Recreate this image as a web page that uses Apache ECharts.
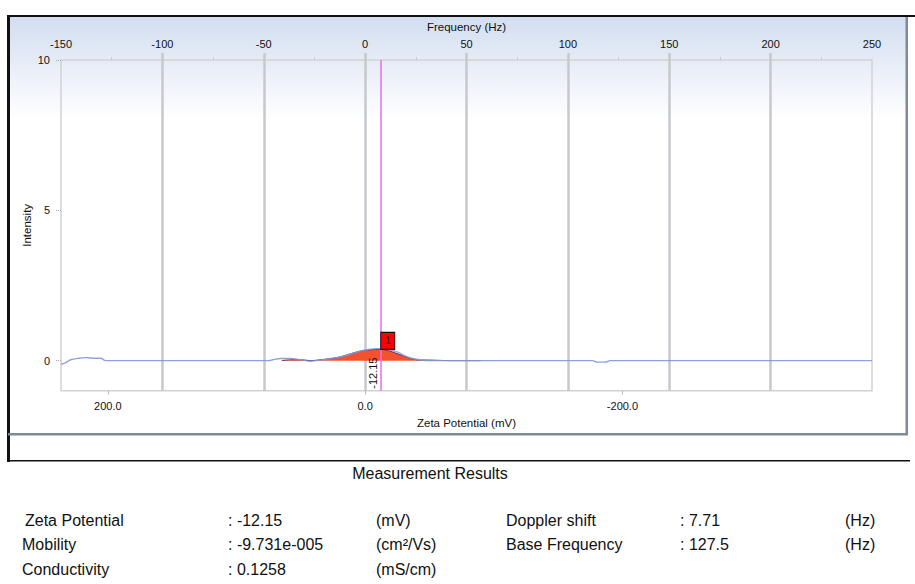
<!DOCTYPE html>
<html>
<head>
<meta charset="utf-8">
<title>Zeta Potential</title>
<script src="https://cdn.jsdelivr.net/npm/echarts@6/dist/echarts.min.js"></script>
<style>
  html, body { margin: 0; padding: 0; background: #ffffff; }
  #chart { width: 915px; height: 584px; }
</style>
</head>
<body>
<div id="chart"></div>
<script>
// Measured results
const zetaPotentialMv = -12.15;
const dopplerShiftHz = 7.71;
const mobilityText = '-9.731e-005';
const conductivityText = '0.1258';
const baseFrequencyText = '127.5';

// Frequency spectrum (blue trace): frequency in Hz and intensity
const spectrumFreq = [-150, -148.1, -145.2, -141.2, -137.8, -132.8, -130.4, -128.4, -126, -47.5, -45.5, -41.6, -36.6, -31.7, -26.8, -21.9, -16.9, -12.0, -7.1, -2.1, 1.8, 5.3, 8.7, 12.7, 16.1, 20.1, 23.5, 27.5, 32.4, 112.3, 113.3, 114.8, 118.2, 119.7, 120.7, 250];
const spectrumIntensity = [-0.12, -0.08, 0.03, 0.08, 0.10, 0.08, 0.08, 0.01, 0, 0, 0.03, 0.07, 0.07, 0.03, -0.02, 0.02, 0.07, 0.12, 0.22, 0.32, 0.37, 0.40, 0.40, 0.35, 0.28, 0.15, 0.07, 0.02, 0, 0, -0.03, -0.05, -0.05, -0.03, 0, 0];

// Zeta potential distribution (red area): potential in mV and intensity
const distZeta = [64.8, 57.7, 50.0, 42.2, 34.5, 26.6, 18.9, 11.2, 3.3, -4.4, -12.15, -18.4, -23.8, -30.1, -35.5, -41.8, -47.1, -57.2, -66.5, -89.8];
const distIntensity = [0, 0.03, 0.03, 0.0, 0.03, 0.07, 0.13, 0.23, 0.32, 0.36, 0.375, 0.33, 0.25, 0.15, 0.07, 0.02, 0.02, 0.01, 0, 0];

// Axis ranges and tick labels
const freqMin = -150, freqMax = 250, freqStep = 50;
const freqTickValues = [-100, -50, 0, 50, 100, 150, 200];
const zetaTickValues = [200, 0, -200];
const intensityMin = -1, intensityMax = 10;
const intensityTickValues = [0, 5, 10];

// Result table rows
const resultRowsLeft = [
  ['Zeta Potential', ': ' + zetaPotentialMv.toFixed(2), '(mV)'],
  ['Mobility', ': ' + mobilityText, '(cm\u00B2/Vs)'],
  ['Conductivity', ': ' + conductivityText, '(mS/cm)']
];
const resultRowsRight = [
  ['Doppler shift', ': ' + dopplerShiftHz.toFixed(2), '(Hz)'],
  ['Base Frequency', ': ' + baseFrequencyText, '(Hz)']
];

// mV per Hz, so the zeta axis lines up with the frequency axis
const mvPerHz = zetaPotentialMv / dopplerShiftHz;

const FONT = '"Liberation Sans", Arial, sans-serif';
const chart = echarts.init(document.getElementById('chart'), null, { renderer: 'svg' });

const spectrumData = spectrumFreq.map((f, i) => [f, spectrumIntensity[i]]);
const distData = distZeta.map((z, i) => [z, distIntensity[i]]);
let peakIdx = 0;
distIntensity.forEach((v, i) => { if (v > distIntensity[peakIdx]) peakIdx = i; });

const graphics = [
  // chart panel with gradient background
  { type: 'rect', z: -10, shape: { x: 8, y: 15, width: 899, height: 419 },
    style: { fill: new echarts.graphic.LinearGradient(0, 0, 0, 1, [
      { offset: 0, color: '#d2ddf0' }, { offset: 0.25, color: '#ffffff' }, { offset: 1, color: '#ffffff' }]) } },
  { type: 'rect', z: -5, shape: { x: 7, y: 15, width: 908, height: 2 }, style: { fill: '#111111' } },
  { type: 'rect', z: -5, shape: { x: 7, y: 15, width: 3, height: 447 }, style: { fill: '#111111' } },
  { type: 'rect', z: -5, shape: { x: 905.5, y: 17, width: 2.5, height: 418 }, style: { fill: '#7d8b98' } },
  { type: 'rect', z: -5, shape: { x: 8, y: 433, width: 900, height: 2.5 }, style: { fill: '#7d8b98' } },
  { type: 'rect', z: -5, shape: { x: 7, y: 460, width: 903, height: 1.5 }, style: { fill: '#111111' } },
  { type: 'text', x: 430, y: 473, style: { text: 'Measurement Results', font: '16px ' + FONT, fill: '#111', textAlign: 'center', textVerticalAlign: 'middle' } }
];
const rowY = [520, 544, 569];
resultRowsLeft.forEach((r, i) => {
  graphics.push({ type: 'text', x: i === 0 ? 25 : 22, y: rowY[i], style: { text: r[0], font: '16px ' + FONT, fill: '#111', textVerticalAlign: 'middle' } });
  graphics.push({ type: 'text', x: 228, y: rowY[i], style: { text: r[1], font: '16px ' + FONT, fill: '#111', textVerticalAlign: 'middle' } });
  graphics.push({ type: 'text', x: 376, y: rowY[i], style: { text: r[2], font: '16px ' + FONT, fill: '#111', textVerticalAlign: 'middle' } });
});
resultRowsRight.forEach((r, i) => {
  graphics.push({ type: 'text', x: 506, y: rowY[i], style: { text: r[0], font: '16px ' + FONT, fill: '#111', textVerticalAlign: 'middle' } });
  graphics.push({ type: 'text', x: 680, y: rowY[i], style: { text: r[1], font: '16px ' + FONT, fill: '#111', textVerticalAlign: 'middle' } });
  graphics.push({ type: 'text', x: 845, y: rowY[i], style: { text: r[2], font: '16px ' + FONT, fill: '#111', textVerticalAlign: 'middle' } });
});

const axisText = { fontFamily: FONT, fontSize: 11, color: '#111' };
const nameText = { fontFamily: FONT, fontSize: 11.5, color: '#111' };

chart.setOption({
  animation: false,
  backgroundColor: 'transparent',
  graphic: graphics,
  grid: { left: 61, top: 60, width: 811, height: 330.7, show: true, borderColor: '#d2d2d2', borderWidth: 1.5, backgroundColor: 'transparent' },
  xAxis: [
    {
      type: 'value', position: 'top', min: freqMin, max: freqMax, interval: freqStep,
      name: 'Frequency (Hz)', nameLocation: 'middle', nameGap: 25, nameTextStyle: nameText,
      axisLine: { show: false, onZero: false },
      axisTick: { show: true, length: 7, customValues: freqTickValues, lineStyle: { color: '#c6c8cc', width: 2.5 } },
      minorTick: { show: true, splitNumber: 2, length: 3, lineStyle: { color: '#c8c8c8', width: 1 } },
      axisLabel: Object.assign({ margin: 11 }, axisText),
      splitLine: { show: true, showMinLine: true, showMaxLine: true, lineStyle: { color: '#c6c8cc', width: 2.5 } }
    },
    {
      type: 'value', position: 'bottom', inverse: true,
      min: freqMax * mvPerHz, max: freqMin * mvPerHz,
      name: 'Zeta Potential (mV)', nameLocation: 'middle', nameGap: 25, nameTextStyle: nameText,
      axisLine: { show: false, onZero: false },
      axisTick: { show: true, length: 4, customValues: zetaTickValues, lineStyle: { color: '#bbbbbb' } },
      axisLabel: Object.assign({ margin: 10, customValues: zetaTickValues, formatter: v => v.toFixed(1) }, axisText),
      splitLine: { show: false }
    }
  ],
  yAxis: {
    type: 'value', min: intensityMin, max: intensityMax,
    name: 'Intensity', nameLocation: 'middle', nameGap: 28, nameRotate: 90, nameMoveOverlap: false, nameTextStyle: nameText,
    axisLine: { show: false, onZero: false },
    axisTick: { show: true, length: 5, customValues: intensityTickValues, lineStyle: { color: '#aaaaaa', type: 'dotted' } },
    axisLabel: Object.assign({ margin: 11, customValues: intensityTickValues }, axisText),
    splitLine: { show: false }
  },
  series: [
    {
      name: 'Zeta distribution', type: 'line', xAxisIndex: 1, data: distData,
      smooth: 0.3, symbol: 'none', z: 3,
      lineStyle: { color: '#6a3050', width: 1 },
      areaStyle: { color: '#f4512f', opacity: 1 },
      markLine: {
        silent: true, symbol: 'none', z: 5,
        lineStyle: { color: '#ea6cea', width: 1.5, type: 'solid' },
        label: { show: true, position: 'insideStartTop', formatter: String(zetaPotentialMv), fontFamily: FONT, fontSize: 11, color: '#111', distance: 2 },
        data: [{ xAxis: zetaPotentialMv }]
      },
      markPoint: {
        silent: true, symbol: 'rect', symbolSize: [14, 17], symbolOffset: [7, -8.5],
        itemStyle: { color: '#ff0000', borderColor: '#111', borderWidth: 1 },
        label: { show: true, formatter: '1', fontFamily: FONT, fontSize: 10, color: '#222' },
        data: [{ coord: distData[peakIdx] }]
      }
    },
    {
      name: 'Spectrum', type: 'line', xAxisIndex: 0, data: spectrumData,
      smooth: 0.3, symbol: 'none', z: 4,
      lineStyle: { color: '#8198d8', width: 1.4, opacity: 0.9 }
    }
  ]
});
</script>
</body>
</html>
